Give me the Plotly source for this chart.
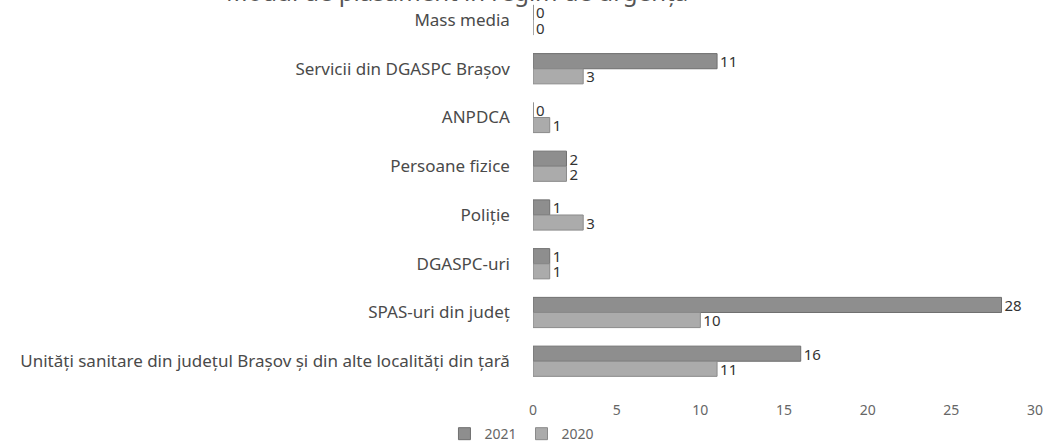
import plotly.graph_objects as go

categories = [
    "Mass media",
    "Servicii din DGASPC Brașov",
    "ANPDCA",
    "Persoane fizice",
    "Poliție",
    "DGASPC-uri",
    "SPAS-uri din județ",
    "Unități sanitare din județul Brașov și din alte localități din țară",
]
values_2021 = [0, 11, 0, 2, 1, 1, 28, 16]
values_2020 = [0, 3, 1, 2, 3, 1, 10, 11]
x_ticks = [0, 5, 10, 15, 20, 25, 30]
title_text = "Modul de plasament în regim de urgență"

FONT = "Noto Sans"
TXT = "#4a4a4a"

fig = go.Figure()
fig.add_trace(go.Bar(
    y=categories, x=values_2021, name="2021", orientation="h",
    marker=dict(color="#8e8e8e", line=dict(color="#6f6f6f", width=1)),
    text=values_2021, textposition="outside", cliponaxis=False, constraintext="none",
    textfont=dict(family=FONT, size=15, color="#333333"),
))
fig.add_trace(go.Bar(
    y=categories, x=values_2020, name="2020", orientation="h",
    marker=dict(color="#ababab", line=dict(color="#8a8a8a", width=1)),
    text=values_2020, textposition="outside", cliponaxis=False, constraintext="none",
    textfont=dict(family=FONT, size=15, color="#333333"),
))

fig.update_layout(
    width=1047, height=443,
    margin=dict(l=533, r=12, t=0, b=53, autoexpand=False),
    paper_bgcolor="white", plot_bgcolor="white",
    barmode="group", bargap=0.38, bargroupgap=0.0,
    font=dict(family=FONT, size=17, color=TXT),
    showlegend=True,
    legend=dict(orientation="h", x=-0.022, xanchor="center", y=-0.072, yanchor="top",
                font=dict(family=FONT, size=14, color="#666666"),
                itemwidth=30, tracegroupgap=0),
    xaxis=dict(range=[0, 30], tickvals=x_ticks, showgrid=False, zeroline=False, automargin=False,
               showline=False, ticks="", ticklabelstandoff=10,
               tickfont=dict(family=FONT, size=14, color="#666666")),
    yaxis=dict(range=[7.59, -0.41], showgrid=False, zeroline=False, showline=False, automargin=False,
               ticks="", ticksuffix="     ", tickfont=dict(family=FONT, size=17, color=TXT)),
    annotations=[dict(text=title_text, xref="paper", yref="paper", x=-0.151, xanchor="center",
                      y=1.0, yanchor="bottom", yshift=-10, showarrow=False,
                      font=dict(family=FONT, size=24, color="#555555"))],
)

fig.write_html("out.html", config={"displayModeBar": False},
               post_script="document.body.style.margin='0';")
